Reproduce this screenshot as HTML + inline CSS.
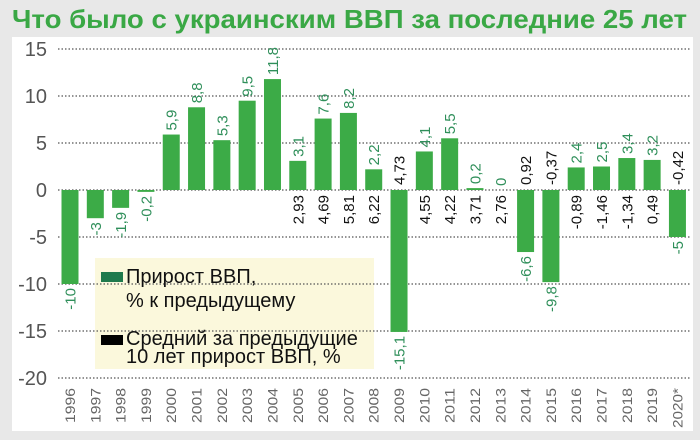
<!DOCTYPE html>
<html><head><meta charset="utf-8"><style>
html,body{margin:0;padding:0;background:#e8e8e8;}
svg{display:block;font-family:"Liberation Sans","DejaVu Sans",sans-serif;}
</style></head><body>
<svg id="c" width="700" height="440" xmlns="http://www.w3.org/2000/svg">
<rect x="0" y="0" width="700" height="440" fill="#e8e8e8"/>
<rect x="12" y="37" width="681" height="394" fill="#ffffff"/>
<text x="12" y="28" font-size="26" font-weight="bold" fill="#3aa845" textLength="675" lengthAdjust="spacingAndGlyphs">Что было с украинским ВВП за последние 25 лет</text>
<g id="g"></g>
</svg>
<script>
var g=document.getElementById('g');var NS='http://www.w3.org/2000/svg';
function el(t,a,txt){var e=document.createElementNS(NS,t);for(var k in a)e.setAttribute(k,a[k]);if(txt!==undefined)e.textContent=txt;g.appendChild(e);return e;}
function Y(v){return 190-9.4*v;}
el('rect',{x:95,y:258,width:279,height:111,fill:'#fbf8dc'});
[15,10,5,0,-5,-10,-15,-20].forEach(function(v){
  var y=Y(v);
  el('line',{x1:58,x2:690,y1:y,y2:y,stroke:'#555','stroke-width':1.2,'stroke-dasharray':'1.5 2'});
  el('text',{x:47,y:y+7,'font-size':20,fill:'#555','text-anchor':'end'},String(v));
});
var d=[-10,-3,-1.9,-0.2,5.9,8.8,5.3,9.5,11.8,3.1,7.6,8.2,2.2,-15.1,4.1,5.5,0.2,0,-6.6,-9.8,2.4,2.5,3.4,3.2,-5];
var av={2005:'2,93',2006:'4,69',2007:'5,81',2008:'6,22',2009:'4,73',2010:'4,55',2011:'4,22',2012:'3,71',2013:'2,76',2014:'0,92',2015:'-0,37',2016:'-0,89',2017:'-1,46',2018:'-1,34',2019:'0,49',2020:'-0,42'};
d.forEach(function(v,i){
  var cx=70+i*25.31,yr=1996+i;
  var top=Math.min(Y(v),190),h=Math.abs(9.4*v);
  if(h>0)el('rect',{x:cx-8.5,y:top,width:17,height:Math.max(h,1.5),fill:'#3cab47'});
  var lbl=String(v).replace('.',',');
  var tx=cx+5.5;
  if(v>=0){var ly=Y(v)-4;el('text',{x:tx,y:ly,'font-size':15,fill:'#2f8f5a',transform:'rotate(-90 '+tx+' '+ly+')'},lbl);}
  else{var ly=Y(v)+4;el('text',{x:tx,y:ly,'font-size':15,fill:'#2f8f5a','text-anchor':'end',transform:'rotate(-90 '+tx+' '+ly+')'},lbl);}
  if(av[yr]){
    if(v>=0){var ay=195;el('text',{x:tx,y:ay,'font-size':15,fill:'#111','text-anchor':'end',transform:'rotate(-90 '+tx+' '+ay+')'},av[yr]);}
    else{var ay=185;el('text',{x:tx,y:ay,'font-size':15,fill:'#111',transform:'rotate(-90 '+tx+' '+ay+')'},av[yr]);}
  }
  var yy=388,ytx=cx+5;
  var s=yr+(yr==2020?'*':'');
  el('text',{x:ytx,y:yy,'font-size':14,fill:'#666','text-anchor':'end',textLength:(yr==2020?40:35),lengthAdjust:'spacingAndGlyphs',transform:'rotate(-90 '+ytx+' '+yy+')'},s);
});
el('rect',{x:101,y:272,width:22,height:10,fill:'#1f7a4d'});
el('text',{x:126,y:283,'font-size':20,fill:'#111'},'Прирост ВВП,');
el('text',{x:126,y:307,'font-size':20,fill:'#111'},'% к предыдущему');
el('rect',{x:101,y:335,width:22,height:10,fill:'#000'});
el('text',{x:126,y:345,'font-size':20,fill:'#111'},'Средний за предыдущие');
el('text',{x:126,y:363,'font-size':20,fill:'#111'},'10 лет прирост ВВП, %');
</script>
</body></html>
